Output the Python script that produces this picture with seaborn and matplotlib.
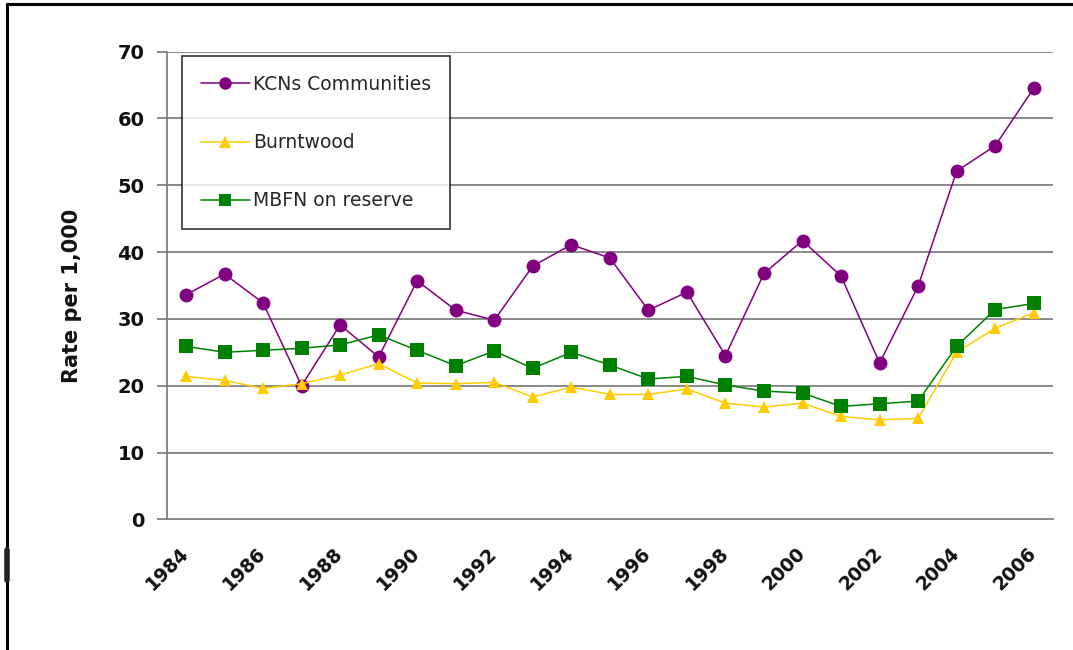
import matplotlib
matplotlib.use("Agg")
import matplotlib.pyplot as plt
import seaborn as sns
import pandas as pd
from matplotlib.lines import Line2D

years = list(range(1984, 2007))
kcn = [33.6, 36.7, 32.4, 20.0, 29.1, 24.3, 35.7, 31.3, 29.8, 37.9, 41.1, 39.1,
       31.3, 34.0, 24.5, 36.8, 41.7, 36.4, 23.4, 34.9, 52.1, 55.9, 64.5]
burntwood = [21.4, 20.8, 19.6, 20.3, 21.6, 23.3, 20.4, 20.3, 20.5, 18.3, 19.8, 18.7,
             18.7, 19.5, 17.4, 16.8, 17.4, 15.4, 14.9, 15.1, 25.0, 28.6, 30.9]
mbfn = [25.9, 25.0, 25.3, 25.6, 26.1, 27.6, 25.3, 23.0, 25.2, 22.6, 25.0, 23.1,
        21.0, 21.4, 20.1, 19.2, 18.9, 16.9, 17.3, 17.7, 25.9, 31.4, 32.3]
series_names = ["KCNs Communities", "Burntwood", "MBFN on reserve"]
y_ticks = [0, 10, 20, 30, 40, 50, 60, 70]
x_labels = [str(y) if (y - 1984) % 2 == 0 else "" for y in years]

colors = {"KCNs Communities": "#800080", "Burntwood": "#FFCC00", "MBFN on reserve": "#008000"}
markers = {"KCNs Communities": "o", "Burntwood": "^", "MBFN on reserve": "s"}

rows = []
for name, vals in zip(series_names, [kcn, burntwood, mbfn]):
    for i, v in enumerate(vals):
        rows.append({"idx": i, "value": v, "series": name})
df = pd.DataFrame(rows)

sns.set_theme(style="white")
plt.rcParams['font.family'] = ['DejaVu Sans']

fig = plt.figure(figsize=(10.73, 6.5), dpi=100)
ax = fig.add_axes([166.7/1073, 1 - 519.4/650, (1053 - 166.7)/1073, (519.4 - 51.5)/650])

for name in series_names:
    sub = df[df["series"] == name]
    sns.lineplot(data=sub, x="idx", y="value", ax=ax, color=colors[name],
                 marker=markers[name], markersize=10 if markers[name] != "^" else 9,
                 markeredgewidth=0, linewidth=1.1, label=name, legend=False)

ax.set_xlim(-0.5, len(years) - 0.5)
ax.set_ylim(0, 70)
ax.set_yticks(y_ticks)
ax.set_yticklabels([str(t) for t in y_ticks], fontsize=14, fontweight="bold", color="#111111")
ax.set_xticks(range(len(years)))
ax.set_xticklabels(x_labels, rotation=45, ha="right", va="center", rotation_mode="anchor",
                   fontsize=13.5, fontweight="bold", color="#111111")
ax.tick_params(axis="y", length=7, width=1.3, color="#808080", pad=9, left=True)
ax.tick_params(axis="x", length=0, pad=22, bottom=True)
ax.set_xlabel("")
ax.set_ylabel("Rate per 1,000", fontsize=15, fontweight="bold", color="#111111")
ax.yaxis.set_label_coords((71.5 - 166.7) / 886.3 + 0.012, (519.4 - 296) / 467.9)

for t in y_ticks[1:]:
    ax.axhline(t, color="#808080", linewidth=1.3, zorder=0)
for side in ["top", "right"]:
    ax.spines[side].set_visible(False)
for side in ["left", "bottom"]:
    ax.spines[side].set_color("#808080")
    ax.spines[side].set_linewidth(1.3)

handles = [Line2D([0], [0], color=colors[n], marker=markers[n], markersize=9,
                  markeredgewidth=0, linewidth=1.1) for n in series_names]
leg = ax.legend(handles, series_names, loc="upper left",
                bbox_to_anchor=((182 - 166.7) / 886.3, (519.4 - 56) / 467.9),
                frameon=True, fancybox=False, fontsize=13.5, labelspacing=2.1,
                handlelength=2.6, handletextpad=0.2, borderpad=1.0, borderaxespad=0)
leg.get_frame().set_edgecolor("black")
leg.get_frame().set_linewidth(1.2)

# outer frame lines
fig.add_artist(Line2D([7/1073, 7/1073], [0, 1 - 4/650], color="black", linewidth=2.2,
                      transform=fig.transFigure))
fig.add_artist(Line2D([7/1073, 1], [1 - 4/650, 1 - 4/650], color="black", linewidth=2.2,
                      transform=fig.transFigure))
fig.add_artist(Line2D([7/1073, 7/1073], [1 - 550/650, 1 - 580/650], color="#222222",
                      linewidth=4, transform=fig.transFigure))

fig.savefig("out.png", dpi=100)
